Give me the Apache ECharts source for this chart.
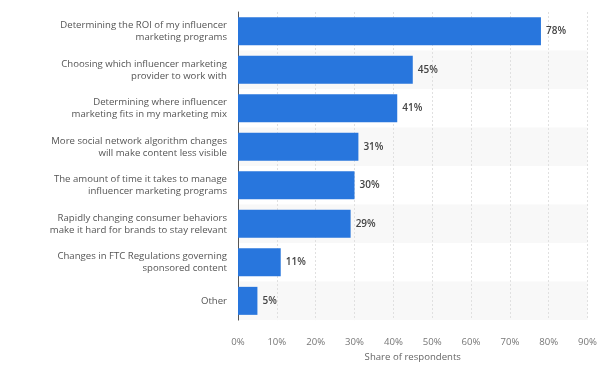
<!DOCTYPE html>
<html><head><meta charset="utf-8">
<script src="https://cdn.jsdelivr.net/npm/echarts@6/dist/echarts.min.js"></script>
<style>html,body{margin:0;padding:0;background:#fff}#c{width:600px;height:367px}</style>
</head><body><div id="c"></div>
<script>
var categories = [
  "Determining the ROI of my influencer\nmarketing programs",
  "Choosing which influencer marketing\nprovider to work with",
  "Determining where influencer\nmarketing fits in my marketing mix",
  "More social network algorithm changes\nwill make content less visible",
  "The amount of time it takes to manage\ninfluencer marketing programs",
  "Rapidly changing consumer behaviors\nmake it hard for brands to stay relevant",
  "Changes in FTC Regulations governing\nsponsored content",
  "Other"
];
var values = [78, 45, 41, 31, 30, 29, 11, 5];
var xTicks = [0, 10, 20, 30, 40, 50, 60, 70, 80, 90];
var axisTitle = "Share of respondents";

var chart = echarts.init(document.getElementById('c'), null, {renderer: 'canvas'});
chart.setOption({
  animation: false,
  grid: {left: 238, right: 9, top: 12, bottom: 35},
  xAxis: {
    type: 'value', min: xTicks[0], max: xTicks[xTicks.length - 1], interval: 10,
    name: axisTitle, nameLocation: 'middle', nameGap: 29,
    nameTextStyle: {color: '#666', fontSize: 9.6, fontFamily: 'Open Sans'},
    axisLine: {show: false}, axisTick: {show: false},
    axisLabel: {color: '#777', fontSize: 9.6, fontFamily: 'Open Sans', margin: 17, formatter: '{value}%'},
    splitLine: {show: true, lineStyle: {color: '#e0e0e0', type: [2, 2], width: 1}}
  },
  yAxis: {
    type: 'category', data: categories, inverse: true,
    axisLine: {show: true, lineStyle: {color: '#555', width: 1}},
    axisTick: {show: false},
    axisLabel: {color: '#555', fontSize: 9.6, fontFamily: 'Open Sans', margin: 11, lineHeight: 12, align: 'right'},
    splitArea: {show: true, areaStyle: {color: ['#ffffff', '#f8f8f8']}}
  },
  series: [{
    type: 'bar', data: values, barWidth: 28,
    itemStyle: {color: '#2876dd'},
    label: {show: true, position: 'right', distance: 5, formatter: '{c}%', color: '#444', fontSize: 10, fontWeight: 600, fontFamily: 'Open Sans'}
  }]
});
</script></body></html>
